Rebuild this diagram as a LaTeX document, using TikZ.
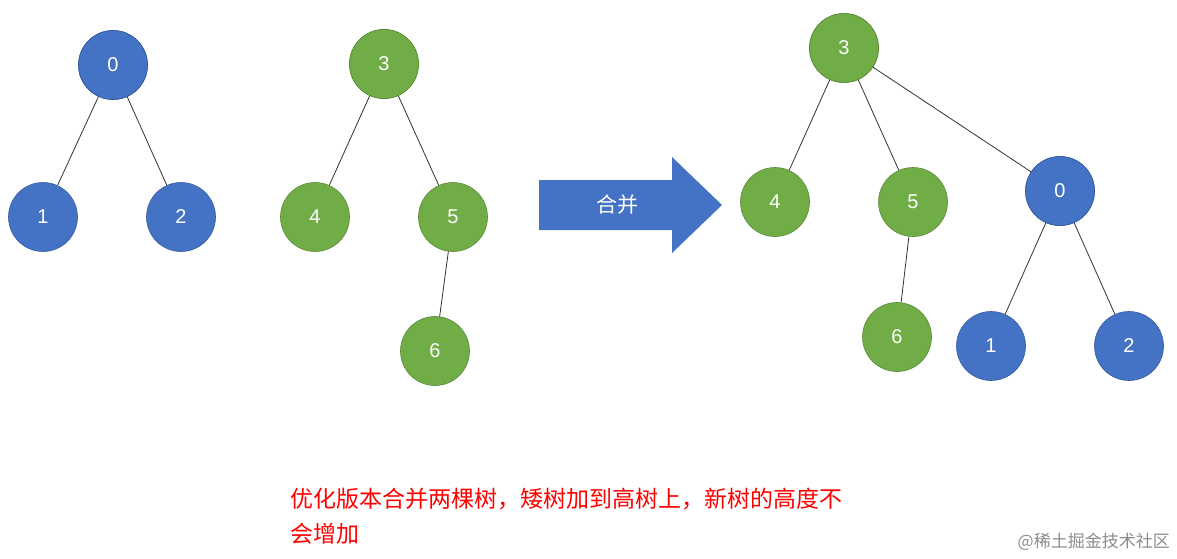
\documentclass[tikz,border=0pt]{standalone}
\usepackage{fontspec}
\setmainfont{Liberation Sans}
\newfontfamily\cjk{Noto Sans CJK SC}
\definecolor{nblue}{HTML}{4472C4}
\definecolor{ngreen}{HTML}{70AD47}
\tikzset{
 bn/.style={circle,fill=nblue,draw=nblue!80!black,line width=0.6pt,minimum size=69pt,inner sep=0pt,text=white,font=\fontsize{20}{20}\selectfont},
 gn/.style={bn,fill=ngreen,draw=ngreen!80!black},
 ed/.style={draw=black!80,line width=0.8pt}
}
\begin{document}
\begin{tikzpicture}[x=1pt,y=-1pt]
\useasboundingbox[fill=white] (0,0) rectangle (1177,558);
% left tree
\node[bn] (a0) at (113,65) {0};
\node[bn] (a1) at (43,217) {1};
\node[bn] (a2) at (181,217) {2};
\draw[ed] (a0.center)--(a1) (a0.center)--(a2);
% middle tree
\node[gn] (b3) at (384,64) {3};
\node[gn] (b4) at (315,217) {4};
\node[gn] (b5) at (453,217) {5};
\node[gn] (b6) at (435,351) {6};
\draw[ed] (b3.center)--(b4) (b3.center)--(b5) (b5)--(b6);
% arrow
\fill[nblue] (539,180)--(672,180)--(672,157)--(722,205)--(672,253)--(672,230)--(539,230)--cycle;
\node[text=white,font=\cjk\fontsize{21}{21}\selectfont] (arr) at (617,205) {合并};
% right tree
\node[gn] (c3) at (844,48) {3};
\node[gn] (c4) at (775,202) {4};
\node[gn] (c5) at (913,202) {5};
\node[gn] (c6) at (897,337) {6};
\node[bn] (c0) at (1060,191) {0};
\node[bn] (c1) at (991,346) {1};
\node[bn] (c2) at (1129,346) {2};
\draw[ed] (c3.center)--(c4) (c3.center)--(c5) (c3.center)--(c0) (c5)--(c6) (c0.center)--(c1) (c0.center)--(c2);
\foreach \n in {c3,c0,b3,a0}{\node[] at (\n) {};}
% redraw top nodes over line starts
\node[gn] at (844,48) {3};
\node[bn] at (1060,191) {0};
\node[gn] at (384,64) {3};
\node[bn] at (113,65) {0};
% caption
\node[anchor=north west,text=red,align=left,inner sep=0pt,font=\cjk\fontsize{23}{35}\selectfont] (cap) at (290,488) {优化版本合并两棵树，矮树加到高树上，新树的高度不\\会增加};
\node[anchor=east,text=black!45,inner sep=0pt,font=\cjk\fontsize{17}{17}\selectfont] (wm) at (1170,542) {@稀土掘金技术社区};
\end{tikzpicture}
\end{document}
